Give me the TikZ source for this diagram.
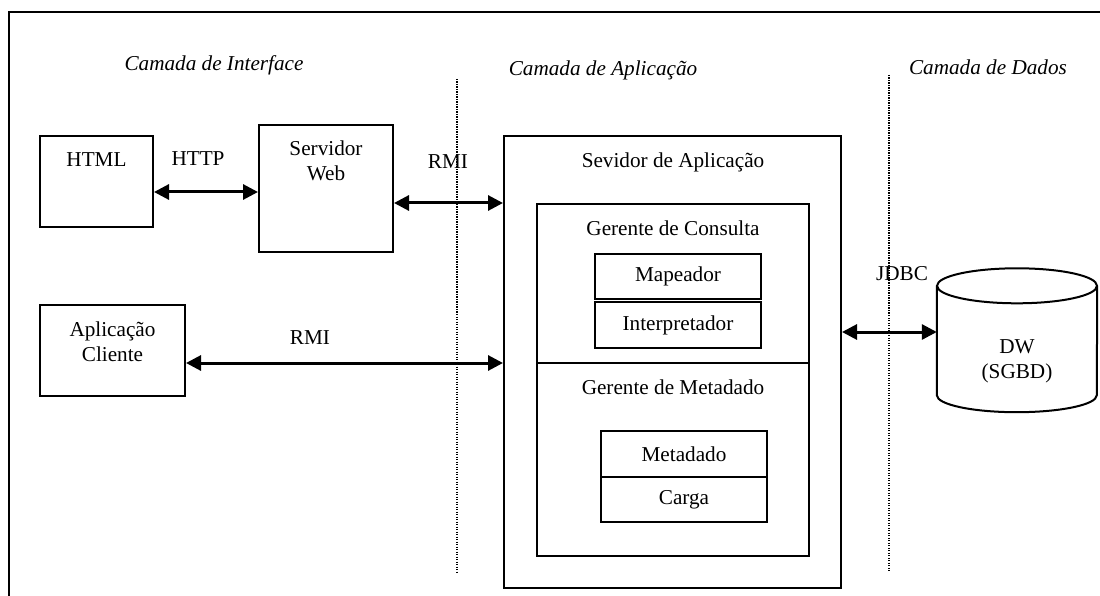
\documentclass[tikz,border=0pt]{standalone}
\usepackage{fontspec}
\setmainfont{Liberation Serif}
\usetikzlibrary{arrows.meta}
\begin{document}
\begin{tikzpicture}[x=1pt,y=-1pt,
  box/.style={draw, line width=2pt, inner sep=0pt},
  txt/.style={inner sep=0pt, align=center, font=\fontsize{21.2}{25}\selectfont},
  layer/.style={inner sep=0pt, font=\fontsize{21.2}{25}\selectfont\itshape},
  biarrow/.style={line width=3pt, {Triangle[length=15pt,width=15pt]}-{Triangle[length=15pt,width=15pt]}},
  divider/.style={line width=1.3pt, dash pattern=on 1.2pt off 1.3pt}
]
\useasboundingbox (0,0) rectangle (1100,596);

% outer frame (continues past the right and bottom edges)
\draw[line width=2pt] (8.8,605) -- (8.8,11.7) -- (1110,11.7);

% layer titles
\node[layer] (tInt) at (214,65) {Camada de Interface};
\node[layer] (tApl) at (603,70) {Camada de Aplicação};
\node[layer] (tDad) at (988,67) {Camada de Dados};

% layer separators
\draw[divider] (457,79) -- (457,572);
\draw[divider] (889,75) -- (889,572);

% interface layer
\node[box, minimum width=113pt, minimum height=91pt] (html) at (96.5,181.5) {};
\node[txt] (htmlT) at (96.5,160) {HTML};
\node[box, minimum width=134pt, minimum height=127pt] (web) at (326,188.5) {};
\node[txt] (webT) at (326,160.5) {Servidor\\Web};
\node[box, minimum width=145pt, minimum height=91pt] (cli) at (112.5,350.5) {};
\node[txt] (cliT) at (112.5,341.5) {Aplicação\\Cliente};

% application server
\node[box, minimum width=337pt, minimum height=452pt] (app) at (672.5,362) {};
\node[txt] (appT) at (673,162) {Sevidor de Aplicação};
\node[box, minimum width=272pt, minimum height=352pt] (ger) at (673,380) {};
\draw[line width=2pt] (ger.west |- 0,363) -- (ger.east |- 0,363);
\node[txt] (gcT) at (673,228) {Gerente de Consulta};
\node[txt] (gmT) at (673,387) {Gerente de Metadado};
\node[box, txt, minimum width=166pt, minimum height=45pt] (map) at (678,276.5) {Mapeador};
\node[box, txt, minimum width=166pt, minimum height=46pt] (int) at (678,325) {Interpretador};
\node[box, txt, minimum width=166pt, minimum height=46pt] (meta) at (684,454) {Metadado};
\node[box, txt, minimum width=166pt, minimum height=45pt] (carga) at (684,499.5) {Carga};

% data warehouse cylinder
\node[inner sep=0pt, minimum width=160pt, minimum height=109pt] (dw) at (1017,340.5) {};
\draw[line width=2pt] (dw.north west) -- (dw.south west)
  arc[start angle=180, end angle=360, x radius=80pt, y radius=17pt] -- (dw.north east);
\draw[line width=2pt] (dw.north) ellipse[x radius=80pt, y radius=17.5pt];
\node[txt] (dwT) at (1017,361) {DW\\(SGBD)};

% connectors
\draw[biarrow] (html.east |- 0,192) -- (web.west |- 0,192);
\node[txt] (http) at (198,159) {HTTP};
\draw[biarrow] (web.east |- 0,203) -- (app.west |- 0,203);
\node[txt] (rmi1) at (448,162) {RMI};
\draw[biarrow] (cli.east |- 0,363) -- (app.west |- 0,363);
\node[txt] (rmi2) at (310,338) {RMI};
\draw[biarrow] (app.east |- 0,332) -- (dw.west |- 0,332);
\node[txt] (jdbc) at (902,274) {JDBC};
\end{tikzpicture}
\end{document}
